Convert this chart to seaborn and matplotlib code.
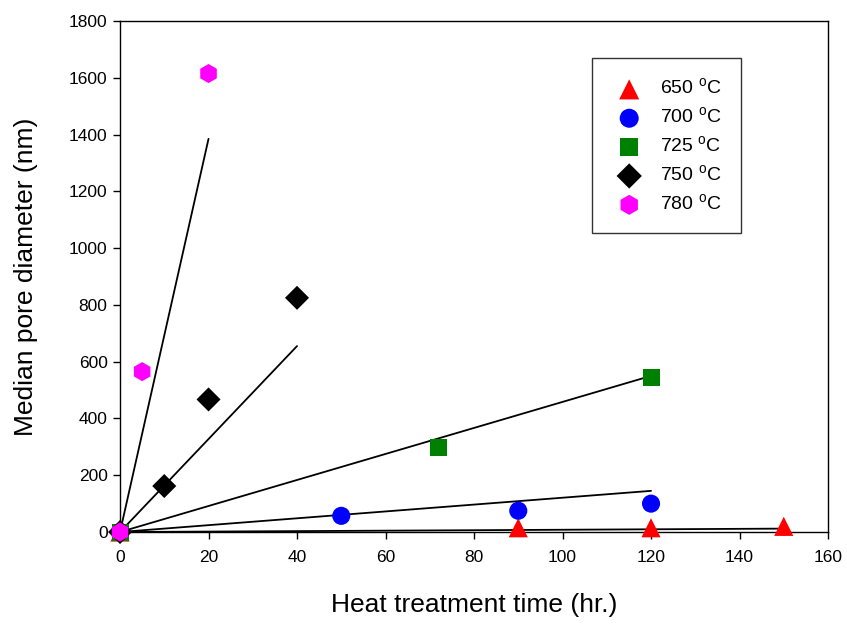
import matplotlib
matplotlib.use("Agg")
import matplotlib.pyplot as plt
import pandas as pd
import seaborn as sns

sns.set_style("ticks")
plt.rcParams['font.family'] = ['Liberation Sans', 'DejaVu Sans']
plt.rcParams['text.color'] = 'black'
plt.rcParams['axes.labelcolor'] = 'black'

# measured points per temperature
time_650 = [0, 90, 120, 150]
dia_650 = [0, 15, 15, 20]
time_700 = [0, 50, 90, 120]
dia_700 = [0, 57, 75, 100]
time_725 = [0, 72, 120]
dia_725 = [0, 297, 545]
time_750 = [0, 10, 20, 40]
dia_750 = [0, 162, 467, 825]
time_780 = [0, 5, 20]
dia_780 = [0, 565, 1615]

# trend lines from origin, end point
fit_x_end = [150, 120, 120, 40, 20]
fit_y_end = [12, 145, 550, 655, 1385]

labels = ['650 $^\\mathregular{o}$C', '700 $^\\mathregular{o}$C', '725 $^\\mathregular{o}$C',
          '750 $^\\mathregular{o}$C', '780 $^\\mathregular{o}$C']
colors = ['#ff0000', '#0000ff', '#008000', '#000000', '#ff00ff']
markers = ['^', 'o', 's', 'D', 'h']
sizes = [190, 170, 150, 150, 190]

times = [time_650, time_700, time_725, time_750, time_780]
dias = [dia_650, dia_700, dia_725, dia_750, dia_780]

fig = plt.figure(figsize=(8.47, 6.24), dpi=100)
ax = fig.add_axes([0.1417, 0.1474, 0.8359, 0.8189])

# fit lines first so markers sit on top
for xe, ye in zip(fit_x_end, fit_y_end):
    sns.lineplot(x=[0, xe], y=[0, ye], ax=ax, color='black', lw=1.3, zorder=2)

for t, d, lab, c, m, s in zip(times, dias, labels, colors, markers, sizes):
    df = pd.DataFrame({'t': t, 'd': d})
    sns.scatterplot(data=df, x='t', y='d', ax=ax, color=c, marker=m, s=s,
                    edgecolor='none', label=lab, zorder=3, clip_on=False)

ax.set_xlim(0, 160)
ax.set_ylim(0, 1800)
ax.set_xticks(range(0, 161, 20))
ax.set_yticks(range(0, 1801, 200))
ax.tick_params(direction='out', length=5, width=1, labelsize=12.5,
               colors='black', labelcolor='black')
ax.tick_params(axis='x', pad=8)
ax.tick_params(axis='y', pad=4)
for sp in ax.spines.values():
    sp.set_visible(True)
    sp.set_color('black')
    sp.set_linewidth(1)

ax.set_xlabel('Heat treatment time (hr.)', fontsize=19, labelpad=20)
ax.set_ylabel('Median pore diameter (nm)', fontsize=19, labelpad=22)

leg = ax.legend(loc='upper left', bbox_to_anchor=(0.667, 0.927), frameon=True,
                fancybox=False, edgecolor='black', fontsize=14,
                borderpad=1.0, labelspacing=0.42, handletextpad=0.7,
                borderaxespad=0, markerscale=1.05, handlelength=1.8)
leg.get_frame().set_linewidth(1)

fig.savefig('out.png', dpi=100)
